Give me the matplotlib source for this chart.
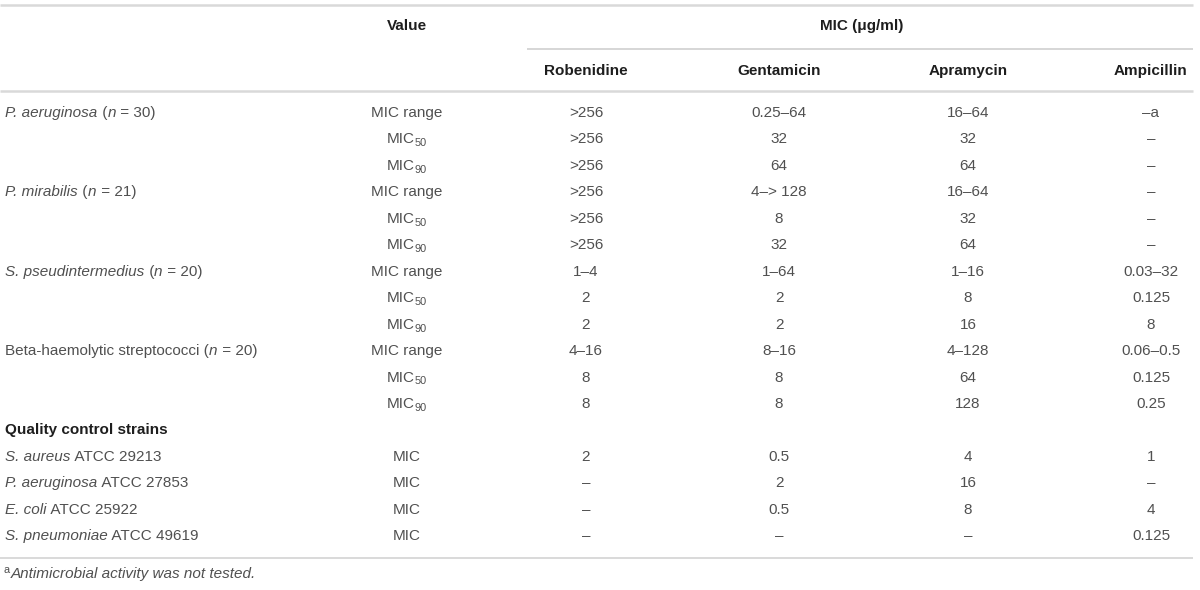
import matplotlib
matplotlib.use("Agg")
import matplotlib.pyplot as plt

plt.rcParams['font.family'] = ['Liberation Sans', 'DejaVu Sans']

# table content; segments are (text, kind) with kind r=regular, i=italic, b=bold, sub, sup
drugs = ["Robenidine", "Gentamicin", "Apramycin", "Ampicillin"]

row_labels = [
    [("P. aeruginosa", "i"), (" (", "r"), ("n", "i"), (" = 30)", "r")], [], [],
    [("P. mirabilis", "i"), (" (", "r"), ("n", "i"), (" = 21)", "r")], [], [],
    [("S. pseudintermedius", "i"), (" (", "r"), ("n", "i"), (" = 20)", "r")], [], [],
    [("Beta-haemolytic streptococci (", "r"), ("n", "i"), (" = 20)", "r")], [], [],
    [("Quality control strains", "b")],
    [("S. aureus", "i"), (" ATCC 29213", "r")],
    [("P. aeruginosa", "i"), (" ATCC 27853", "r")],
    [("E. coli", "i"), (" ATCC 25922", "r")],
    [("S. pneumoniae", "i"), (" ATCC 49619", "r")],
]

rng = [("MIC range", "r")]
m50 = [("MIC", "r"), ("50", "sub")]
m90 = [("MIC", "r"), ("90", "sub")]
mic = [("MIC", "r")]
value_labels = [rng, m50, m90] * 4 + [[], mic, mic, mic, mic]

robenidine = [">256", ">256", ">256", ">256", ">256", ">256",
              "1–4", "2", "2", "4–16", "8", "8", "", "2", "–", "–", "–"]
gentamicin = ["0.25–64", "32", "64", "4–> 128", "8", "32",
              "1–64", "2", "2", "8–16", "8", "8", "", "0.5", "2", "0.5", "–"]
apramycin = ["16–64", "32", "64", "16–64", "32", "64",
             "1–16", "8", "16", "4–128", "64", "128", "", "4", "16", "8", "–"]
ampicillin = ["–a", "–", "–", "–", "–", "–",
              "0.03–32", "0.125", "8", "0.06–0.5", "0.125", "0.25", "", "1", "–", "4", "0.125"]

footnote = [("a", "sup"), ("Antimicrobial activity was not tested.", "i")]

fig = plt.figure(figsize=(12, 5.9), dpi=100)
ax = fig.add_axes([0, 0, 1, 1])
ax.set_xlim(0, 1200)
ax.set_ylim(590, 0)
ax.axis('off')
renderer = fig.canvas.get_renderer()

txt = "#505050"
head = "#1e1e1e"
rule = "#d9d9d9"
fs = 11


def seg_kw(kind, color):
    kw = dict(fontsize=fs, color=color, va='baseline', ha='left')
    if kind == "i":
        kw['style'] = 'italic'
    elif kind == "b":
        kw['fontweight'] = 'bold'
        kw['color'] = head
    elif kind in ("sub", "sup"):
        kw['fontsize'] = fs * 0.72
    return kw


def rich(x, y, parts, ha='left', color=txt):
    # y is the row centre; draw segments one after another on a shared baseline
    base = y + 4
    objs = []
    total = 0
    for s, kind in parts:
        dy = 3 if kind == "sub" else (-5 if kind == "sup" else 0)
        t = ax.text(0, base + dy, s, **seg_kw(kind, color))
        w = t.get_window_extent(renderer).width
        if kind == "i":
            w += 0.5
        elif kind == "sup":
            w += 1.5
        objs.append((t, w))
        total += w
    start = x - total / 2 if ha == 'center' else x
    for t, w in objs:
        t.set_x(start)
        start += w


# rules
ax.plot([0, 1193], [5, 5], color=rule, lw=1.8, solid_capstyle='butt')
ax.plot([527, 1193], [49, 49], color="#cfcfcf", lw=1.2, solid_capstyle='butt')
ax.plot([0, 1193], [91, 91], color=rule, lw=1.8, solid_capstyle='butt')
ax.plot([0, 1193], [558, 558], color=rule, lw=1.4, solid_capstyle='butt')

# headers
val_x = 407
drug_x = [586, 779, 968, 1151]
rich(val_x, 26, [("Value", "b")], ha='center')
rich(862, 26, [("MIC (μg/ml)", "b")], ha='center')
for x, d in zip(drug_x, drugs):
    rich(x, 71, [(d, "b")], ha='center')

# body
y0, dy = 113, 26.45
columns = [robenidine, gentamicin, apramycin, ampicillin]
for i, lab in enumerate(row_labels):
    y = y0 + i * dy
    if lab:
        rich(5, y, lab)
    if value_labels[i]:
        rich(val_x, y, value_labels[i], ha='center')
    for x, col in zip(drug_x, columns):
        if col[i]:
            rich(x, y, [(col[i], "r")], ha='center')

rich(3, 574, footnote)

fig.savefig("out.png", dpi=100)
